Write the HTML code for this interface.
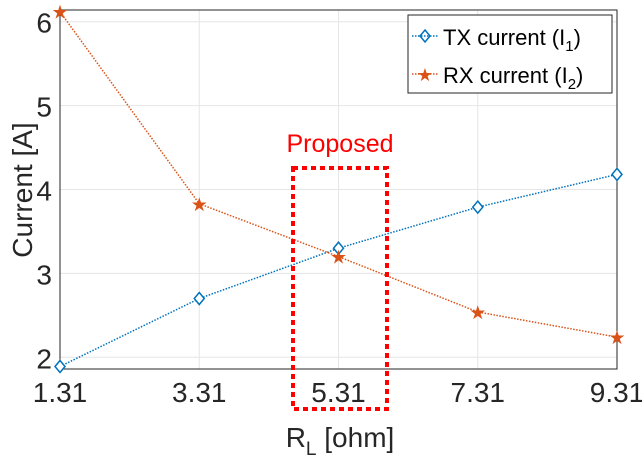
<!DOCTYPE html>
<html><head><meta charset="utf-8"><style>body{margin:0;background:#fff}svg{display:block;font-family:"Liberation Sans",Arial,sans-serif}</style></head>
<body>
<svg id="chart" width="642" height="465">
<rect x="0" y="0" width="642" height="465" fill="#fff"/>
<g id="grid"></g>
<g id="axes"></g>
<g id="series"></g>
<rect x="293" y="168" width="94" height="241" fill="none" stroke="#ff0000" stroke-width="4" stroke-dasharray="5,4"/>
<text x="340" y="152" fill="#ff0000" font-size="25" text-anchor="middle">Proposed</text>
<text x="340" y="447" font-size="28" text-anchor="middle" fill="#262626">R<tspan font-size="19" dy="8">L</tspan><tspan dy="-8"> [ohm]</tspan></text>
<text transform="translate(32,190) rotate(-90)" font-size="28" text-anchor="middle" fill="#262626">Current [A]</text>
<g>
<rect x="408" y="15" width="204" height="78" fill="#fff" stroke="#262626" stroke-width="1"/>
<g>
<line x1="412" y1="36" x2="438" y2="36" stroke="#0072bd" stroke-width="1.5" stroke-dasharray="1.5,1.5"/>
<path d="M425 30 L430 36 L425 42 L420 36Z" fill="none" stroke="#0072bd" stroke-width="1.5"/>
<text x="443" y="45" font-size="22" fill="#000">TX current (I<tspan font-size="15" dy="6">1</tspan><tspan dy="-6">)</tspan></text>
</g>
<g>
<line x1="412" y1="74" x2="438" y2="74" stroke="#d95319" stroke-width="1.5" stroke-dasharray="1.5,1.5"/>
<text x="425" y="81" font-size="18" fill="#d95319" text-anchor="middle">★</text>
<text x="443" y="83" font-size="22" fill="#000">RX current (I<tspan font-size="15" dy="6">2</tspan><tspan dy="-6">)</tspan></text>
</g>
</g>
</svg>
<script>
const categories = [1.31, 3.31, 5.31, 7.31, 9.31];
const txCurrent = [1.89, 2.70, 3.30, 3.79, 4.18];
const rxCurrent = [6.12, 3.83, 3.20, 2.54, 2.24];
const yTicks = [2, 3, 4, 5, 6];
const xTickLabels = ["1.31", "3.31", "5.31", "7.31", "9.31"];

const NS = "http://www.w3.org/2000/svg";
const L = 60, R = 617, T = 10, B = 369;
const yMin = 1.86, yMax = 6.14;
function xs(v){ return L + (v - 1.31) / 8 * (R - L); }
function ys(v){ return B - (v - yMin) / (yMax - yMin) * (B - T); }
function mk(tag, attrs, parent){ const e = document.createElementNS(NS, tag); for (const k in attrs) e.setAttribute(k, attrs[k]); parent.appendChild(e); return e; }
const grid = document.getElementById('grid'), axes = document.getElementById('axes'), ser = document.getElementById('series');

yTicks.forEach(t => {
  const g = mk('line', {x1:L, x2:R, y1:ys(t), y2:ys(t), stroke:'#e6e6e6', 'stroke-width':1}, grid);
  
  
  const tx = mk('text', {x:L-8, y:ys(t)+11, 'font-size':28, 'text-anchor':'end', fill:'#262626'}, axes);
  tx.textContent = t;
  
  
});
categories.forEach((c, i) => {
  const g = mk('line', {x1:xs(c), x2:xs(c), y1:T, y2:B, stroke:'#e6e6e6', 'stroke-width':1}, grid);
  
  
  const tx = mk('text', {x:xs(c), y:B+33, 'font-size':28, 'text-anchor':'middle', fill:'#262626'}, axes);
  tx.textContent = xTickLabels[i];
  
  
});
const box = mk('rect', {x:L, y:T, width:R-L, height:B-T, fill:'none', stroke:'#262626', 'stroke-width':1}, axes);



function drawLine(vals, color, name){
  const pts = vals.map((v,i)=> xs(categories[i])+','+ys(v)).join(' ');
  const pl = mk('polyline', {points:pts, fill:'none', stroke:color, 'stroke-width':1.5, 'stroke-dasharray':'1.5,1.5'}, ser);
  
  
}
drawLine(txCurrent, '#0072bd', 'tx-current');
drawLine(rxCurrent, '#d95319', 'rx-current');
txCurrent.forEach((v,i) => {
  const x = xs(categories[i]), y = ys(v);
  const p = mk('path', {d:`M${x} ${y-6} L${x+5} ${y} L${x} ${y+6} L${x-5} ${y}Z`, fill:'#fff', stroke:'#0072bd', 'stroke-width':1.5}, ser);
  
  
});
rxCurrent.forEach((v,i) => {
  const x = xs(categories[i]), y = ys(v);
  const t = mk('text', {x:x, y:y+7, 'font-size':19, 'text-anchor':'middle', fill:'#d95319'}, ser);
  t.textContent = '★';
  
  
});
</script>
</body></html>
